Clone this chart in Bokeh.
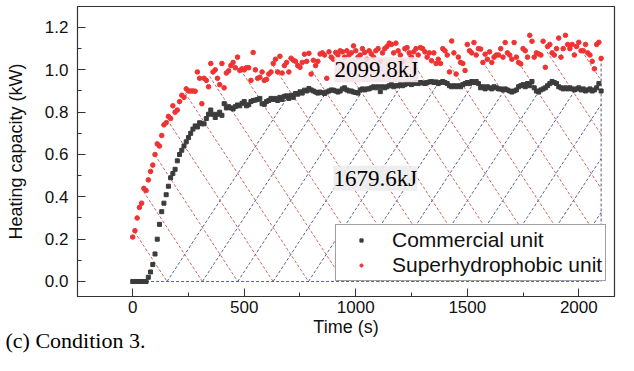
import numpy as np
from bokeh.plotting import figure
from bokeh.models import Range1d, SingleIntervalTicker, NumeralTickFormatter, Label, Title
from bokeh.embed import file_html
from bokeh.resources import INLINE

# ---------------- data ----------------
time_s = list(range(0, 2101, 10))

commercial_kw = [
    0, 0, 0, 0, 0, 0, 0,
    0.02, 0.045, 0.08, 0.13, 0.20, 0.27, 0.33, 0.37, 0.41, 0.45,
    0.49, 0.51, 0.53, 0.57, 0.60, 0.62, 0.64, 0.66, 0.68, 0.70,
    0.72, 0.735, 0.73, 0.75, 0.745, 0.745, 0.77, 0.79, 0.81, 0.79,
    0.775, 0.79, 0.80, 0.785, 0.84, 0.82, 0.826, 0.82, 0.815, 0.826,
    0.834, 0.83, 0.842, 0.85, 0.83, 0.835, 0.85, 0.855, 0.857, 0.86,
    0.865, 0.84, 0.837, 0.85, 0.855, 0.865, 0.86, 0.865, 0.855, 0.87,
    0.86, 0.875, 0.877, 0.865, 0.88, 0.87, 0.888, 0.885, 0.896, 0.89,
    0.904, 0.90, 0.912, 0.905, 0.90, 0.895, 0.89, 0.895, 0.892, 0.888,
    0.895, 0.90, 0.905, 0.904, 0.90, 0.895, 0.90, 0.91, 0.915, 0.905,
    0.90, 0.90, 0.895, 0.893, 0.89, 0.905, 0.91, 0.905, 0.91, 0.91,
    0.915, 0.92, 0.915, 0.92, 0.897, 0.92, 0.915, 0.92, 0.925, 0.93,
    0.92, 0.925, 0.925, 0.93, 0.925, 0.93, 0.935, 0.935, 0.93, 0.935,
    0.94, 0.935, 0.94, 0.938, 0.935, 0.94, 0.943, 0.945, 0.94, 0.943,
    0.935, 0.94, 0.945, 0.94, 0.935, 0.925, 0.92, 0.925, 0.92, 0.925,
    0.92, 0.93, 0.935, 0.94, 0.935, 0.945, 0.94, 0.945, 0.935, 0.915,
    0.92, 0.91, 0.92, 0.915, 0.91, 0.92, 0.915, 0.91, 0.91, 0.905,
    0.91, 0.905, 0.90, 0.895, 0.90, 0.905, 0.92, 0.925, 0.93, 0.92,
    0.935, 0.925, 0.945, 0.915, 0.90, 0.895, 0.905, 0.91, 0.915, 0.925,
    0.935, 0.945, 0.94, 0.935, 0.92, 0.915, 0.91, 0.915, 0.91, 0.915,
    0.91, 0.905, 0.91, 0.915, 0.905, 0.91, 0.90, 0.905, 0.91, 0.90,
    0.905, 0.915, 0.935, 0.90,
]

superhydrophobic_kw = [
    0.21, 0.24, 0.30, 0.35, 0.37, 0.44, 0.43,
    0.48, 0.52, 0.55, 0.60, 0.65, 0.64, 0.69, 0.74, 0.75, 0.78,
    0.77, 0.83, 0.80, 0.81, 0.85, 0.88, 0.87, 0.91, 0.90, 0.90,
    0.90, 0.899, 0.99, 0.96, 0.84, 0.96, 0.95, 0.92, 1.03, 0.99,
    1.00, 0.96, 0.93, 1.03, 0.915, 0.985, 0.995, 1.02, 1.035, 1.01,
    1.06, 0.997, 1.005, 1.0, 1.01, 1.01, 0.95, 1.082, 1.0, 0.96,
    0.965, 0.99, 0.95, 0.955, 0.98, 0.99, 1.03, 1.05, 0.99, 1.064,
    0.985, 1.02, 1.035, 0.99, 1.055, 1.045, 1.04, 1.02, 1.012, 1.035,
    1.074, 1.04, 1.078, 0.98, 1.045, 1.02, 1.04, 1.075, 1.08, 1.07,
    0.96, 1.085, 1.06, 1.05, 1.082, 1.07, 1.09, 1.085, 1.06, 1.09,
    1.07, 1.08, 1.113, 1.09, 1.06, 1.07, 1.10, 1.082, 1.05, 1.09,
    1.075, 1.06, 1.09, 1.10, 1.04, 1.08, 1.10, 1.11, 1.126, 1.12,
    1.08, 1.126, 1.09, 1.07, 1.04, 1.10, 1.105, 1.08, 1.06, 1.085,
    1.10, 1.07, 1.105, 1.10, 1.085, 1.06, 1.08, 1.043, 1.08, 1.03,
    1.05, 1.03, 1.10, 1.09, 1.07, 0.99, 1.136, 1.08, 0.98, 1.06,
    1.035, 1.03, 0.997, 1.12, 1.09, 1.08, 1.129, 1.07, 1.10, 1.098,
    1.035, 1.074, 1.05, 1.085, 1.035, 1.06, 1.07, 1.07, 1.10, 1.06,
    1.129, 1.08, 1.07, 1.05, 1.129, 1.06, 1.035, 1.028, 1.10, 1.09,
    1.06, 1.163, 1.135, 1.06, 1.08, 1.075, 1.07, 1.135, 1.012, 1.11,
    1.12, 1.08, 1.07, 1.10, 1.15, 1.06, 1.10, 1.163, 1.12, 1.10,
    1.12, 1.07, 1.11, 1.13, 1.09, 1.09, 1.12, 1.08, 1.07, 1.04,
    1.005, 1.12, 1.13, 1.054,
]

series_names = ["Commercial unit", "Superhydrophobic unit"]
energy_texts = ["2099.8kJ", "1679.6kJ"]
caption = "(c) Condition 3."

# hatch geometry (style of the filled areas)
hatch_origin = 154.0
hatch_step = 158.5
hatch_slope = 0.00161

# ---------------- figure ----------------
p = figure(width=618, height=355,
           x_range=Range1d(-247.5, 2160), y_range=Range1d(-0.0709, 1.2992),
           output_backend="svg", toolbar_location=None,
           min_border_left=77, min_border_right=4, min_border_top=6, min_border_bottom=59,
           background_fill_color="white", border_fill_color="white")
p.xgrid.visible = False
p.ygrid.visible = False
p.outline_line_color = "#333333"
p.outline_line_width = 1.2

tt = np.array(time_s, dtype=float)
blk = np.array(commercial_kw, dtype=float)
red = np.array(superhydrophobic_kw, dtype=float)
t_end = tt[-1]
dense = np.linspace(tt[0], t_end, 8401)
red_d = np.interp(dense, tt, red)
blk_d = np.interp(dense, tt, blk)

# descending (red) hatch lines under the superhydrophobic curve
rxs, rys = [], []
k = 0
while True:
    tk = hatch_origin + hatch_step * k
    k += 1
    if tk > t_end + red.max() / hatch_slope + hatch_step:
        break
    line = hatch_slope * (tk - dense)
    mask = (dense <= tk) & (line <= red_d)
    if not mask.any():
        continue
    idx = np.where(mask)[0]
    last = idx[-1]
    first = last
    while first - 1 >= 0 and mask[first - 1]:
        first -= 1
    x0, x1 = dense[first], min(tk, t_end)
    rxs.append([x0, x1])
    rys.append([hatch_slope * (tk - x0), hatch_slope * (tk - x1)])

b_origin = hatch_origin
while b_origin - hatch_step > -400:
    b_origin -= hatch_step
# ascending (blue) hatch lines under the commercial curve
bxs, bys = [], []
k = 0
while True:
    tk = b_origin + hatch_step * k
    k += 1
    if tk >= t_end:
        break
    if tk < 0:
        continue
    line = hatch_slope * (dense - tk)
    above = (dense >= tk) & (line >= blk_d)
    start_i = np.searchsorted(dense, tk)
    hits = np.where(above[start_i + 1:])[0]
    x1 = dense[start_i + 1 + hits[0]] if len(hits) else t_end
    if x1 - tk < 5:
        continue
    bxs.append([tk, x1])
    bys.append([0.0, hatch_slope * (x1 - tk)])

red_hatch = "#c65555"
blue_hatch = "#44508a"
p.multi_line(bxs, bys, line_color=blue_hatch, line_width=0.9, line_dash="3 2")
p.multi_line(rxs, rys, line_color=red_hatch, line_width=0.9, line_dash="3 2")
start_t = tt[np.argmax(blk > 0) - 1]
p.line([start_t, t_end], [0, 0], line_color=blue_hatch, line_width=0.9, line_dash="3 2")
p.line([t_end, t_end], [0, red[-1]], line_color="#4a4a6a", line_width=0.9, line_dash="3 2")

p.scatter(time_s, commercial_kw, marker="square", size=4, color="#3c3c3c",
          legend_label=series_names[0])
p.scatter(time_s, superhydrophobic_kw, marker="circle", size=4.6, color="#f03232",
          legend_label=series_names[1])

# energy labels
p.add_layout(Label(x=1092, y=1.0, text=energy_texts[0], text_align="center",
                   text_baseline="middle", text_font="Liberation Serif",
                   text_font_size="23px", text_color="black",
                   background_fill_color="#f4e5e9", background_fill_alpha=0.9))
p.add_layout(Label(x=1088, y=0.488, text=energy_texts[1], text_align="center",
                   text_baseline="middle", text_font="Liberation Serif",
                   text_font_size="23px", text_color="black",
                   background_fill_color="#ececec", background_fill_alpha=0.9))

# axes
for ax in (p.xaxis[0], p.yaxis[0]):
    ax.major_tick_in = 8
    ax.major_tick_out = 0
    ax.minor_tick_in = 4
    ax.minor_tick_out = 0
    ax.axis_line_color = "#333333"
    ax.major_tick_line_color = "#333333"
    ax.minor_tick_line_color = "#333333"
    ax.major_label_text_font = "Liberation Sans"
    ax.major_label_text_font_size = "17px"
    ax.major_label_text_color = "#111111"
    ax.axis_label_text_font = "Liberation Sans"
    ax.axis_label_text_font_size = "18px"
    ax.axis_label_text_font_style = "normal"
    ax.axis_label_text_color = "#111111"

p.xaxis[0].ticker = SingleIntervalTicker(interval=500, num_minor_ticks=2)
p.yaxis[0].ticker = SingleIntervalTicker(interval=0.2, num_minor_ticks=2)
p.yaxis[0].formatter = NumeralTickFormatter(format="0.0")
p.xaxis[0].axis_label = "Time (s)"
p.yaxis[0].axis_label = "Heating capacity (kW)"
p.xaxis[0].major_label_standoff = 4
p.xaxis[0].axis_label_standoff = 1
p.yaxis[0].major_label_standoff = 9
p.yaxis[0].axis_label_standoff = 16

# legend
lg = p.legend[0]
lg.location = (258, 15)
lg.label_text_font = "Liberation Sans"
lg.label_text_font_size = "21px"
lg.label_text_color = "#111111"
lg.glyph_width = 44
lg.glyph_height = 8
lg.label_height = 22
lg.label_standoff = 9
lg.padding = 3
lg.spacing = 1
lg.margin = 0
lg.border_line_color = "#444444"
lg.border_line_width = 1
lg.background_fill_alpha = 1.0

# caption below the plot, on the same line as the x-axis title
p.add_layout(Title(text=caption, align="left", vertical_align="top", offset=-72,
                   standoff=-23, text_font="Liberation Serif", text_font_size="22px",
                   text_font_style="normal", text_color="black"), "below")

open("out.html", "w").write(file_html(p, INLINE))
